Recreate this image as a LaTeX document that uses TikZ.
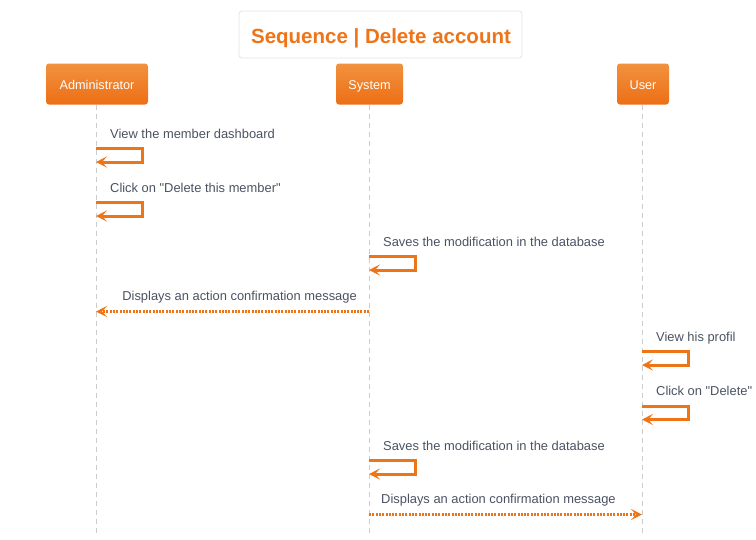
\documentclass[tikz,border=0pt]{standalone}
\usepackage{fontspec}
\setmainfont{Liberation Sans}
\usetikzlibrary{arrows.meta}
\definecolor{orA}{HTML}{EE7418}
\definecolor{orTop}{HTML}{F2913F}
\definecolor{orBot}{HTML}{EC6F15}
\definecolor{txtC}{HTML}{4A5262}
\definecolor{lifeC}{HTML}{CCCCCC}
\definecolor{titleBd}{HTML}{E4E4E4}
\tikzset{
  head/.style={rounded corners=3pt, top color=orTop, bottom color=orBot, draw=none,
    text=white, minimum height=41pt, inner xsep=0pt, text height=11pt, text depth=0pt,
    font=\fontsize{12.7}{14}\selectfont},
  life/.style={draw=lifeC, line width=0.8pt, dash pattern=on 5pt off 4pt},
  tip/.style={-{Stealth[length=11pt,width=11pt,inset=5pt]}},
  msg/.style={draw=orA, line width=3pt, tip},
  ret/.style={draw=orA, line width=3pt, dash pattern=on 2pt off 1.3pt, tip},
  lbl/.style={text=txtC, font=\fontsize{12.9}{14}\selectfont, inner sep=0pt}
}
\begin{document}
\begin{tikzpicture}[x=1pt,y=-1pt]
\useasboundingbox (0,0) rectangle (756,539);
% title
\node[draw=titleBd, line width=0.8pt, rounded corners=3pt, fill=white, minimum width=283pt, minimum height=47pt] (title) at (380.5,34.5) {};
\node[anchor=base, text=orA, inner sep=0pt, font=\bfseries\fontsize{20.5}{24}\selectfont] (titletext) at (381,43) {Sequence | Delete account};
% heads
\node[head, minimum width=102pt] (adm) at (97,84) {Administrator};
\node[head, minimum width=67pt] (sys) at (369.5,84) {System};
\node[head, minimum width=52pt] (usr) at (643,84) {User};
% lifeline ends
\coordinate (admE) at (96,535);
\coordinate (sysE) at (369,535);
\coordinate (usrE) at (642,535);
\draw[life] (adm.south -| admE) -- (admE);
\draw[life] (sys.south -| sysE) -- (sysE);
\draw[life] (usr.south -| usrE) -- (usrE);
% message anchor coordinates
\coordinate (m1) at (96,148.5);
\coordinate (m2) at (96,202.5);
\coordinate (m3) at (369,256.5);
\coordinate (m4s) at (369,311.5);
\coordinate (m4e) at (96,311.5);
\coordinate (m5) at (642,351.5);
\coordinate (m6) at (642,406);
\coordinate (m7) at (369,460.5);
\coordinate (m8s) at (369,514.5);
\coordinate (m8e) at (642,514.5);
% self messages
\draw[msg] (m1) -- ++(46,0) -- ++(0,13.5) -- ++(-46,0);
\node[lbl, anchor=base west] (l1) at ([shift={(14,-10.5)}]m1) {View the member dashboard};
\draw[msg] (m2) -- ++(46,0) -- ++(0,13.5) -- ++(-46,0);
\node[lbl, anchor=base west] (l2) at ([shift={(14,-10.5)}]m2) {Click on \textquotedbl Delete this member\textquotedbl};
\draw[msg] (m3) -- ++(46,0) -- ++(0,13.5) -- ++(-46,0);
\node[lbl, anchor=base west] (l3) at ([shift={(14,-10.5)}]m3) {Saves the modification in the database};
\draw[ret] (m4s) -- (m4e);
\node[lbl, anchor=base east] (l4) at ([shift={(-12,-11)}]m4s) {Displays an action confirmation message};
\draw[msg] (m5) -- ++(46,0) -- ++(0,13.5) -- ++(-46,0);
\node[lbl, anchor=base west] (l5) at ([shift={(14,-10.5)}]m5) {View his profil};
\draw[msg] (m6) -- ++(46,0) -- ++(0,13.5) -- ++(-46,0);
\node[lbl, anchor=base west] (l6) at ([shift={(14,-10.5)}]m6) {Click on \textquotedbl Delete\textquotedbl};
\draw[msg] (m7) -- ++(46,0) -- ++(0,13.5) -- ++(-46,0);
\node[lbl, anchor=base west] (l7) at ([shift={(14,-10.5)}]m7) {Saves the modification in the database};
\draw[ret] (m8s) -- (m8e);
\node[lbl, anchor=base west] (l8) at ([shift={(12,-11)}]m8s) {Displays an action confirmation message};
\end{tikzpicture}
\end{document}
